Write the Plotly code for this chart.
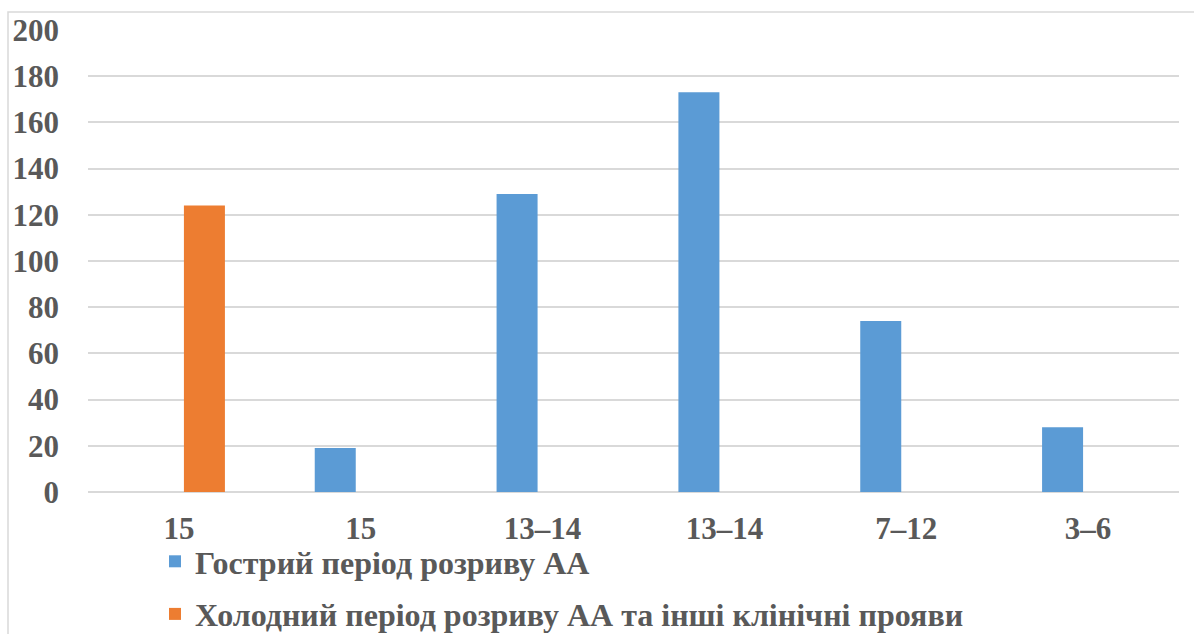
import plotly.graph_objects as go

# Age-group categories (labels repeat, so bars sit at integer positions)
categories = ["15", "15", "13–14", "13–14", "7–12", "3–6"]
acute_values = [0, 19, 129, 173, 74, 28]
cold_values = [124, 0, 0, 0, 0, 0]
acute_name = "Гострий період розриву АА"
cold_name = "Холодний період розриву АА та інші клінічні прояви"
y_ticks = [0, 20, 40, 60, 80, 100, 120, 140, 160, 180, 200]

positions = list(range(len(categories)))

FONT = "Liberation Serif"
GREY = "#595959"
W, H = 1194, 634
L, R, T, B = 88, 15, 30, 142
PLOT_W = W - L - R
PLOT_H = H - T - B

fig = go.Figure()
fig.add_trace(go.Bar(
    x=positions, y=acute_values, name=acute_name,
    marker=dict(color="#5b9bd5", line=dict(width=0)),
    legendgroup="a",
))
fig.add_trace(go.Bar(
    x=positions, y=cold_values, name=cold_name,
    marker=dict(color="#ed7d31", line=dict(width=0)),
    legendgroup="b",
))

fig.update_layout(
    width=W, height=H,
    margin=dict(l=L, r=R, t=T, b=B, pad=0, autoexpand=False),
    paper_bgcolor="white", plot_bgcolor="white",
    barmode="group", bargap=0.439, bargroupgap=0.196,
    font=dict(family=FONT, color=GREY, size=31),
    xaxis=dict(
        tickmode="array", tickvals=positions, ticktext=categories,
        range=[-0.5, len(categories) - 0.5],
        showgrid=False, zeroline=False, showline=False,
        ticks="", ticklen=0, ticklabelstandoff=15,
        tickfont=dict(family=FONT, size=31, color=GREY, weight="bold"),
    ),
    yaxis=dict(
        range=[0, 200], tickvals=y_ticks,
        showgrid=True, gridcolor="#d9d9d9", gridwidth=1.5,
        zeroline=True, zerolinecolor="#d9d9d9", zerolinewidth=1.5,
        showline=False, ticks="", ticklabelstandoff=28,
        tickfont=dict(family=FONT, size=31, color=GREY, weight="bold"),
    ),
    showlegend=True,
    legend=dict(
        orientation="v", traceorder="grouped", tracegroupgap=8,
        x=(155 - L) / PLOT_W, xanchor="left",
        y=-(534 - (H - B)) / PLOT_H, yanchor="top",
        font=dict(family=FONT, size=32, color=GREY, weight="bold"),
        bgcolor="rgba(0,0,0,0)", borderwidth=0,
    ),
    shapes=[dict(
        type="rect", xref="paper", yref="paper",
        x0=(8 - L) / PLOT_W, x1=(W + 20 - L) / PLOT_W,
        y0=-(B + 20) / PLOT_H, y1=1 + (T - 12) / PLOT_H,
        line=dict(color="#d9d9d9", width=1.5), layer="below",
    )],
)

fig.write_html("out.html")
